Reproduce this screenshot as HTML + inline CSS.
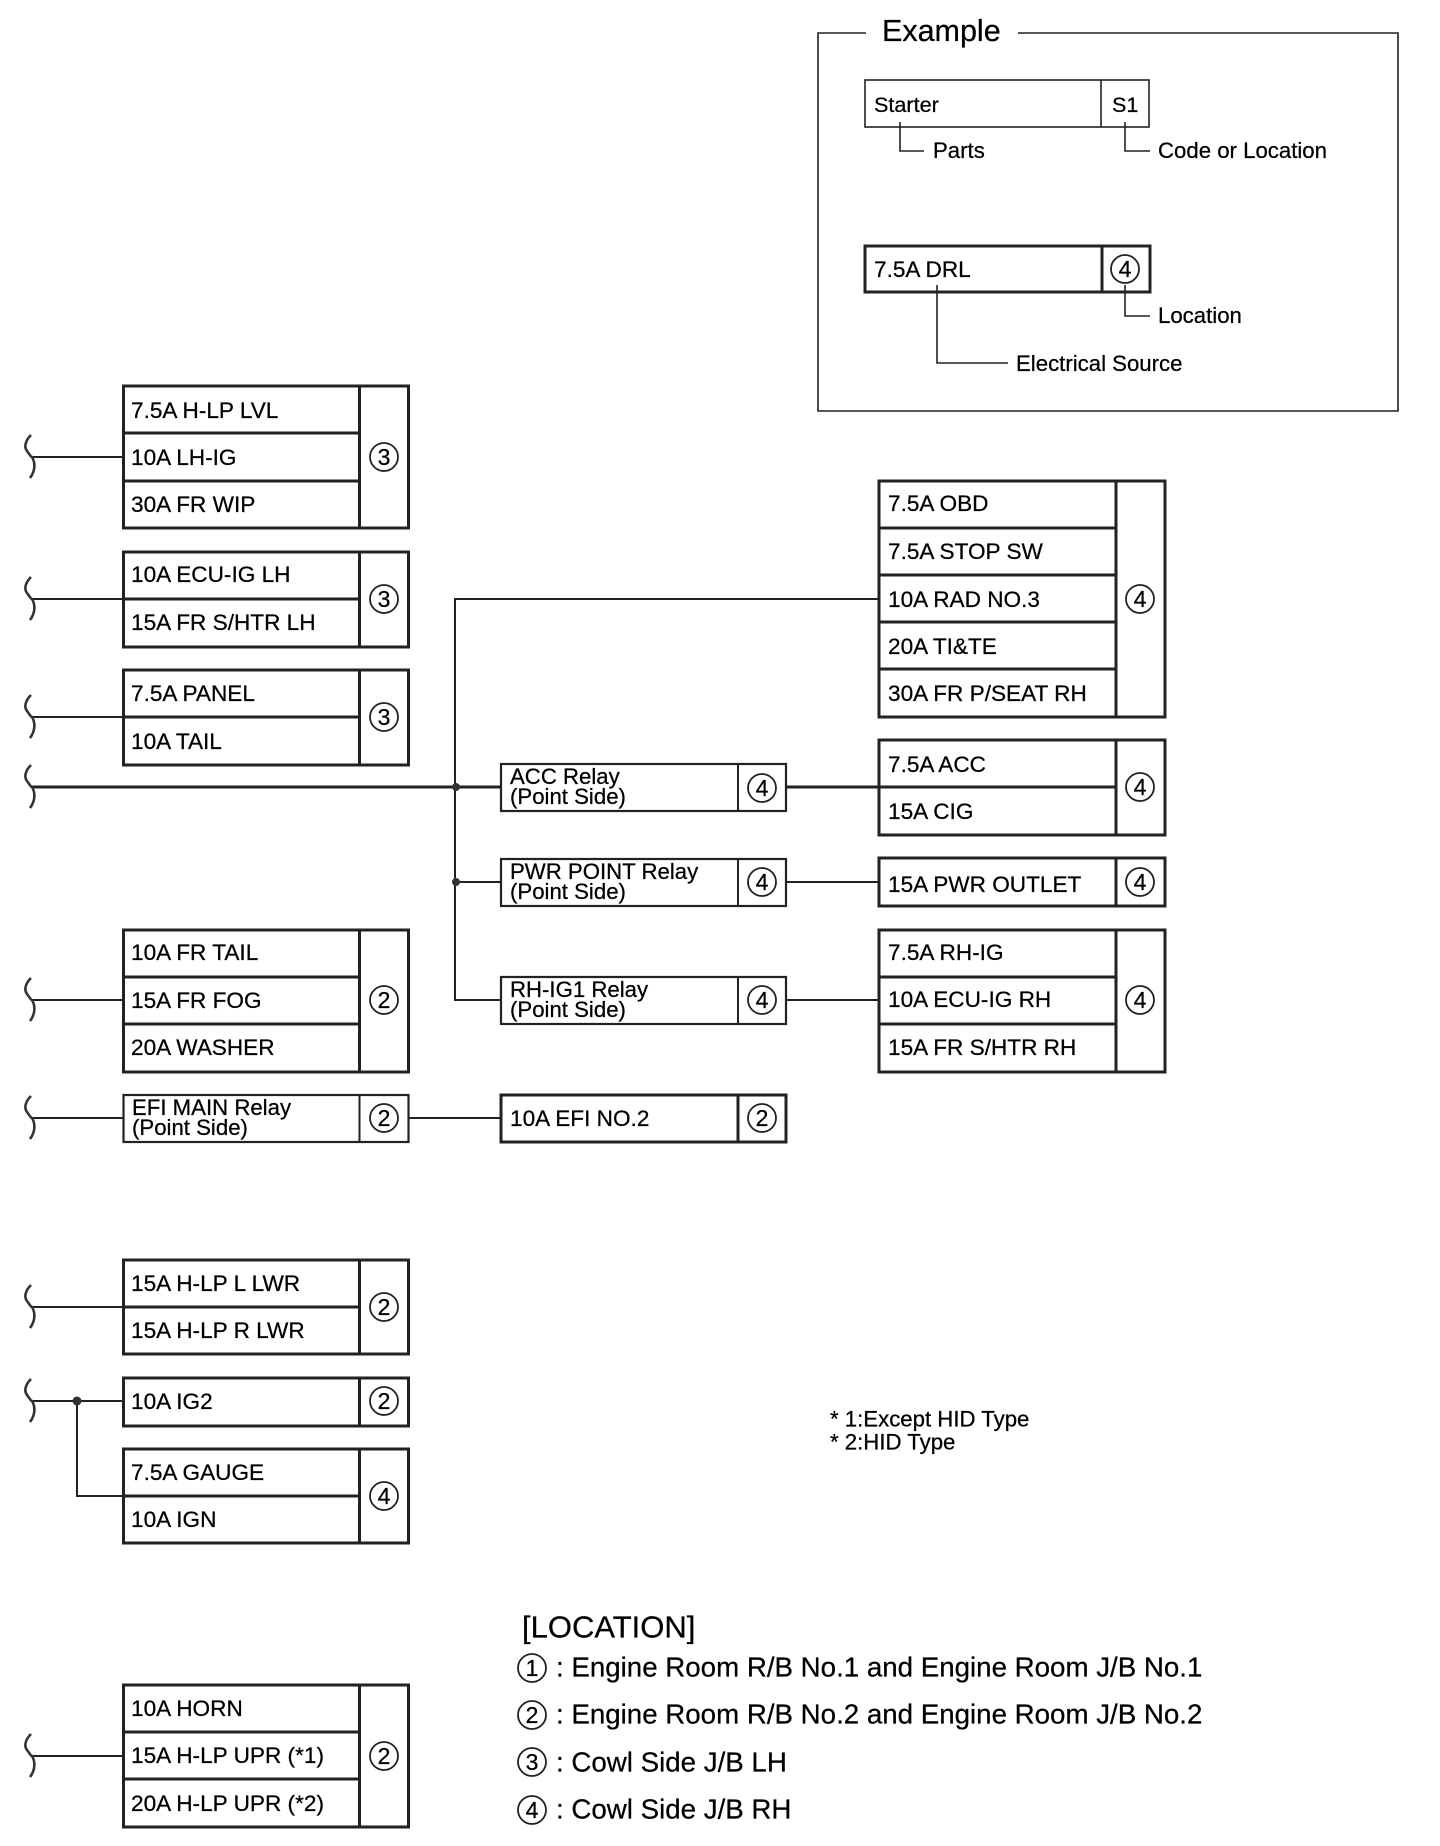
<!DOCTYPE html>
<html><head><meta charset="utf-8"><style>
html,body{margin:0;padding:0;background:#fff}
svg{display:block}
text{font-family:"Liberation Sans",Arial,sans-serif;font-size:22.6px;fill:#000;stroke:#000;stroke-width:.25px}
.n{text-anchor:middle;font-size:23px}
.r{font-size:22.2px}
.b{fill:#fff;stroke:#222;stroke-width:3}
.t{stroke:#222;stroke-width:3;fill:none}
.w{stroke:#222;stroke-width:2;fill:none}
.c{fill:#fff;stroke:#222;stroke-width:1.8}
.s{fill:none;stroke:#333;stroke-width:2.6}
.f{fill:none;stroke:#222;stroke-width:1.6}
.l{font-size:27.7px}
</style></head><body>
<svg width="1440" height="1846" viewBox="0 0 1440 1846" xmlns="http://www.w3.org/2000/svg">
<defs><path id="q" d="M31 -22 C25 -16 24 -10 27 -6 C30 -2 31 0 32 0 C35 5 36 13 30 21" /></defs>

<!-- Example -->
<path class="f" d="M866 33H818V411H1398V33H1018"/>
<text x="882" y="41" style="font-size:30.5px">Example</text>
<rect class="f" x="865" y="80" width="284" height="47"/>
<path class="f" d="M1101 80V127"/>
<text x="874" y="112" style="font-size:21.6px">Starter</text>
<text x="1112" y="112" style="font-size:21.6px">S1</text>
<path class="f" d="M900 122V151H924M1125 122V151H1150"/>
<text class="r" x="933" y="158">Parts</text>
<text class="r" x="1158" y="158">Code or Location</text>
<rect class="b" x="865" y="246" width="285" height="46"/>
<path class="t" d="M1102 246V292"/>
<text x="874" y="277">7.5A DRL</text>
<circle class="c" cx="1125" cy="269" r="14"/><text class="n" x="1125" y="277">4</text>
<path class="f" d="M937 285V363H1008M1125 285V316H1150"/>
<text class="r" x="1158" y="323">Location</text>
<text class="r" x="1016" y="371">Electrical Source</text>

<!-- Wires -->
<path class="w" d="M32 457H123M32 599H123M32 717H123M32 1000H123M32 1118H123M409 1118H501M32 1307H123M32 1401H123M77 1401V1496H123M32 1756H123"/>
<path class="w" d="M879 599H455V1000H501M455 882H501M786 882H879M786 1000H879"/>
<path class="t" d="M32 787H501M786 787H879"/>
<circle cx="456" cy="787" r="4" fill="#333"/><circle cx="456" cy="882" r="4" fill="#333"/><circle cx="77" cy="1401" r="4.5" fill="#333"/>
<use href="#q" class="s" y="457"/><use href="#q" class="s" y="599"/><use href="#q" class="s" y="717"/><use href="#q" class="s" y="787"/><use href="#q" class="s" y="1000"/><use href="#q" class="s" y="1118"/><use href="#q" class="s" y="1307"/><use href="#q" class="s" y="1401"/><use href="#q" class="s" y="1756"/>

<!-- Box A -->
<rect class="b" x="123.5" y="386" width="285" height="142"/><path class="t" d="M359.5 386V528M123 433H359M123 481H359"/>
<text x="131" y="418">7.5A H-LP LVL</text><text x="131" y="465">10A LH-IG</text><text x="131" y="512">30A FR WIP</text>
<circle class="c" cx="384" cy="457" r="14"/><text class="n" x="384" y="465">3</text>
<!-- Box B -->
<rect class="b" x="123.5" y="552" width="285" height="95"/><path class="t" d="M359.5 552V647M123 599H359"/>
<text x="131" y="582">10A ECU-IG LH</text><text x="131" y="630">15A FR S/HTR LH</text>
<circle class="c" cx="384" cy="599" r="14"/><text class="n" x="384" y="607">3</text>
<!-- Box C -->
<rect class="b" x="123.5" y="670" width="285" height="95"/><path class="t" d="M359.5 670V765M123 717H359"/>
<text x="131" y="701">7.5A PANEL</text><text x="131" y="749">10A TAIL</text>
<circle class="c" cx="384" cy="717" r="14"/><text class="n" x="384" y="725">3</text>
<!-- Box D -->
<rect class="b" x="123.5" y="930" width="285" height="142"/><path class="t" d="M359.5 930V1072M123 977H359M123 1024H359"/>
<text x="131" y="960">10A FR TAIL</text><text x="131" y="1008">15A FR FOG</text><text x="131" y="1055">20A WASHER</text>
<circle class="c" cx="384" cy="1000" r="14"/><text class="n" x="384" y="1008">2</text>
<!-- EFI relay -->
<rect class="b" x="123.5" y="1095" width="285" height="47" style="stroke-width:2.2"/><path class="w" d="M359.5 1095V1142"/>
<text class="r" x="132" y="1115">EFI MAIN Relay</text><text class="r" x="132" y="1135">(Point Side)</text>
<circle class="c" cx="384" cy="1118" r="14"/><text class="n" x="384" y="1126">2</text>
<!-- Box E -->
<rect class="b" x="123.5" y="1260" width="285" height="94"/><path class="t" d="M359.5 1260V1354M123 1307H359"/>
<text x="131" y="1291">15A H-LP L LWR</text><text x="131" y="1338">15A H-LP R LWR</text>
<circle class="c" cx="384" cy="1307" r="14"/><text class="n" x="384" y="1315">2</text>
<!-- IG2 -->
<rect class="b" x="123.5" y="1378" width="285" height="48"/><path class="t" d="M359.5 1378V1426"/>
<text x="131" y="1409">10A IG2</text>
<circle class="c" cx="384" cy="1401" r="14"/><text class="n" x="384" y="1409">2</text>
<!-- Gauge -->
<rect class="b" x="123.5" y="1449" width="285" height="94"/><path class="t" d="M359.5 1449V1543M123 1496H359"/>
<text x="131" y="1480">7.5A GAUGE</text><text x="131" y="1527">10A IGN</text>
<circle class="c" cx="384" cy="1496" r="14"/><text class="n" x="384" y="1504">4</text>
<!-- Horn -->
<rect class="b" x="123.5" y="1685" width="285" height="142"/><path class="t" d="M359.5 1685V1827M123 1732H359M123 1779H359"/>
<text x="131" y="1716">10A HORN</text><text x="131" y="1763">15A H-LP UPR (*1)</text><text x="131" y="1811">20A H-LP UPR (*2)</text>
<circle class="c" cx="384" cy="1756" r="14"/><text class="n" x="384" y="1764">2</text>

<!-- OBD -->
<rect class="b" x="879" y="481" width="286" height="236"/><path class="t" d="M1116 481V717M879 528H1116M879 575H1116M879 622H1116M879 669H1116"/>
<text x="888" y="511">7.5A OBD</text><text x="888" y="559">7.5A STOP SW</text><text x="888" y="607">10A RAD NO.3</text><text x="888" y="654">20A TI&amp;TE</text><text x="888" y="701">30A FR P/SEAT RH</text>
<circle class="c" cx="1140" cy="599" r="14"/><text class="n" x="1140" y="607">4</text>
<!-- ACC relay -->
<rect class="b" x="501" y="764" width="285" height="47" style="stroke-width:2.2"/><path class="w" d="M738 764V811"/>
<text class="r" x="510" y="784">ACC Relay</text><text class="r" x="510" y="804">(Point Side)</text>
<circle class="c" cx="762" cy="788" r="14"/><text class="n" x="762" y="796">4</text>
<!-- ACC box -->
<rect class="b" x="879" y="740" width="286" height="95"/><path class="t" d="M1116 740V835M879 787H1116"/>
<text x="888" y="772">7.5A ACC</text><text x="888" y="819">15A CIG</text>
<circle class="c" cx="1140" cy="787" r="14"/><text class="n" x="1140" y="795">4</text>
<!-- PWR relay -->
<rect class="b" x="501" y="859" width="285" height="47" style="stroke-width:2.2"/><path class="w" d="M738 859V906"/>
<text class="r" x="510" y="879" style="font-size:22.2px">PWR POINT Relay</text><text class="r" x="510" y="899">(Point Side)</text>
<circle class="c" cx="762" cy="882" r="14"/><text class="n" x="762" y="890">4</text>
<!-- PWR outlet -->
<rect class="b" x="879" y="858" width="286" height="48"/><path class="t" d="M1116 858V906"/>
<text x="888" y="892">15A PWR OUTLET</text>
<circle class="c" cx="1140" cy="882" r="14"/><text class="n" x="1140" y="890">4</text>
<!-- RH relay -->
<rect class="b" x="501" y="977" width="285" height="47" style="stroke-width:2.2"/><path class="w" d="M738 977V1024"/>
<text class="r" x="510" y="997">RH-IG1 Relay</text><text class="r" x="510" y="1017">(Point Side)</text>
<circle class="c" cx="762" cy="1000" r="14"/><text class="n" x="762" y="1008">4</text>
<!-- RH box -->
<rect class="b" x="879" y="930" width="286" height="142"/><path class="t" d="M1116 930V1072M879 977H1116M879 1024H1116"/>
<text x="888" y="960">7.5A RH-IG</text><text x="888" y="1007">10A ECU-IG RH</text><text x="888" y="1055">15A FR S/HTR RH</text>
<circle class="c" cx="1140" cy="1000" r="14"/><text class="n" x="1140" y="1008">4</text>
<!-- EFI NO.2 -->
<rect class="b" x="501" y="1095" width="285" height="47"/><path class="t" d="M738 1095V1142"/>
<text x="510" y="1126">10A EFI NO.2</text>
<circle class="c" cx="762" cy="1118" r="14"/><text class="n" x="762" y="1126">2</text>

<!-- Notes -->
<text class="r" x="830" y="1426.5">* 1:Except HID Type</text>
<text class="r" x="830" y="1449.5">* 2:HID Type</text>

<!-- Location -->
<text x="522" y="1637.5" style="font-size:31px">[LOCATION]</text>
<circle class="c" cx="532" cy="1668" r="14"/><text class="n" x="532" y="1676">1</text>
<text class="l" x="556" y="1676.5">: Engine Room R/B No.1 and Engine Room J/B No.1</text>
<circle class="c" cx="532" cy="1715" r="14"/><text class="n" x="532" y="1723">2</text>
<text class="l" x="556" y="1723.5">: Engine Room R/B No.2 and Engine Room J/B No.2</text>
<circle class="c" cx="532" cy="1762" r="14"/><text class="n" x="532" y="1770">3</text>
<text class="l" x="556" y="1771.5">: Cowl Side J/B LH</text>
<circle class="c" cx="532" cy="1810" r="14"/><text class="n" x="532" y="1818">4</text>
<text class="l" x="556" y="1818.5">: Cowl Side J/B RH</text>
</svg>
</body></html>
